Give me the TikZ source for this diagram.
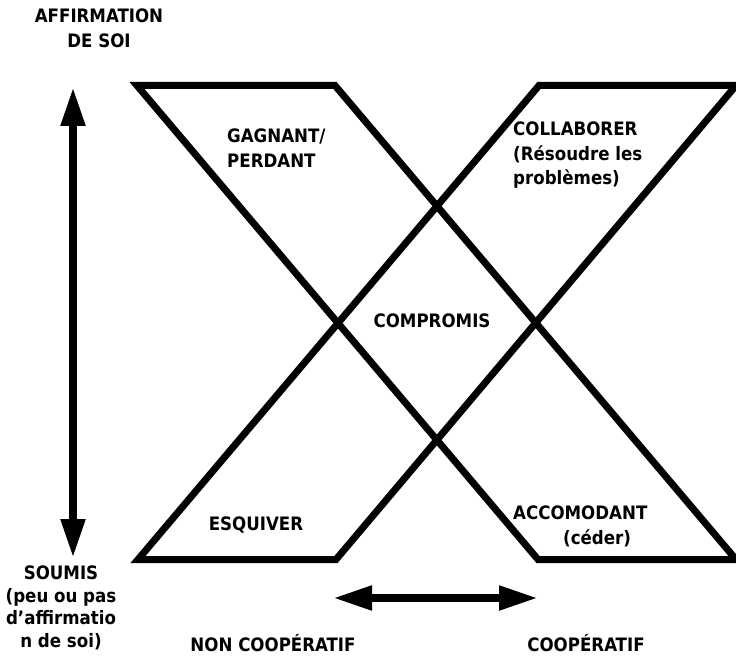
\documentclass[tikz,border=0pt]{standalone}
\usepackage{fontspec}
\setmainfont{DejaVu Sans Condensed}
\usetikzlibrary{arrows.meta}
\begin{document}
\begin{tikzpicture}[x=1pt,y=-1pt,
  quad/.style={line width=7pt, line join=miter},
  lbl/.style={font=\bfseries\fontsize{18.5}{24.5}\selectfont, inner sep=0pt},
  tipx/.tip={Triangle[length=39pt,width=23pt]},
  axis/.style={line width=8pt, tipx-tipx}]
\useasboundingbox (0,0) rectangle (736,660);
% parallelograms
\draw[quad] (137,85.5) -- (335,85.5) -- (736,559.5) -- (538,559.5) -- cycle;
\draw[quad] (539,85.5) -- (736,85.5) -- (336,559.5) -- (138,559.5) -- cycle;
% axes
\coordinate (vtop) at (73,87);
\coordinate (vbot) at (73,558);
\coordinate (hl) at (333,598);
\coordinate (hr) at (538,598);
\draw[axis] (vbot) -- (vtop);
\draw[axis] (hl) -- (hr);
% labels
\node[lbl, align=center] (aff) at (99,28.5) {AFFIRMATION\\DE SOI};
\node[lbl, align=left, anchor=north west] (gp) at (227,129) {GAGNANT/\\PERDANT};
\node[lbl, align=left, anchor=north west] (col) at (513,122) {COLLABORER\\(Résoudre les\\problèmes)};
\node[lbl] (comp) at (432,321) {COMPROMIS};
\node[lbl, anchor=base] (esq) at (256,530) {ESQUIVER};
\node[lbl, align=left, anchor=north west] (acc) at (513,506) {ACCOMODANT\\\hspace*{50pt}(céder)};
\node[lbl, align=center, anchor=north, font=\bfseries\fontsize{18.5}{22.5}\selectfont] (sou) at (61,566) {SOUMIS\\(peu ou pas\\d’affirmatio\\n de soi)};
\node[lbl, anchor=base] (nc) at (273,651) {NON COOPÉRATIF};
\node[lbl, anchor=base] (co) at (586,651) {COOPÉRATIF};
\end{tikzpicture}
\end{document}
